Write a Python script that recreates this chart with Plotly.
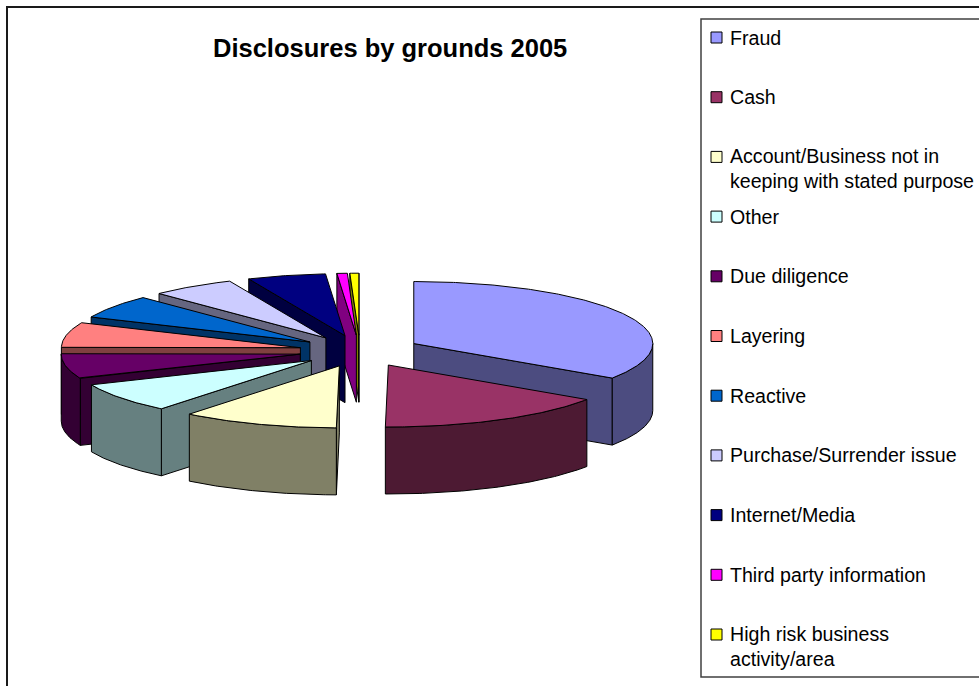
import numpy as np
import plotly.graph_objects as go

# ---- data -------------------------------------------------------------
categories = [
    "Fraud",
    "Cash",
    "Account/Business not in keeping with stated purpose",
    "Other",
    "Due diligence",
    "Layering",
    "Reactive",
    "Purchase/Surrender issue",
    "Internet/Media",
    "Third party information",
    "High risk business activity/area",
]
legend_text = [
    "Fraud",
    "Cash",
    "Account/Business not in<br>keeping with stated purpose",
    "Other",
    "Due diligence",
    "Layering",
    "Reactive",
    "Purchase/Surrender issue",
    "Internet/Media",
    "Third party information",
    "High risk business<br>activity/area",
]
shares = [34.4, 15.8, 10.6, 7.8, 6.5, 6.5, 6.1, 5.7, 5.3, 0.7, 0.6]

face_colors = ["#9999FF", "#993366", "#FFFFCC", "#CCFFFF", "#660066", "#FF8080",
               "#0066CC", "#CCCCFF", "#000080", "#FF00FF", "#FFFF00"]
wall_colors = ["#4C4C80", "#4D1A33", "#808066", "#668080", "#330033", "#804040",
               "#003366", "#666680", "#000040", "#800080", "#808000"]

title_text = "Disclosures by grounds 2005"

# ---- pie geometry (page pixels) ---------------------------------------
CX, CY = 360.0, 351.0      # centre of the top face
RX, RY = 239.0, 62.0       # ellipse radii of the tilted disc
THICK = 67.0               # disc thickness
EXPLODE = 0.255            # radial pull of every slice
FONT = "Liberation Sans, Arial, sans-serif"

vals = np.array(shares, dtype=float)
bounds = np.concatenate([[0.0], np.cumsum(vals)]) / vals.sum() * 360.0


def ring(theta, off, r=1.0):
    t = np.radians(theta)
    return CX + off[0] + r * RX * np.sin(t), CY + off[1] - r * RY * np.cos(t)


slices = []
for i in range(len(vals)):
    a0, a1 = bounds[i], bounds[i + 1]
    am = np.radians((a0 + a1) / 2)
    off = (EXPLODE * RX * np.sin(am), -EXPLODE * RY * np.cos(am))
    ax, ay = CX + off[0], CY + off[1]
    polys = []
    # radial walls that face the viewer
    for a, visible in ((a0, np.sin(np.radians(a0)) < 0),
                       (a1, np.sin(np.radians(a1)) > 0)):
        if visible:
            ox, oy = ring(a, off)
            polys.append(([ax, ox, ox, ax, ax],
                          [ay, oy, oy + THICK, ay + THICK, ay], wall_colors[i]))
    # curved outer wall on the front half
    lo, hi = max(a0, 90.0), min(a1, 270.0)
    if lo < hi:
        th = np.linspace(lo, hi, 90)
        xs, ys = ring(th, off)
        polys.append((np.concatenate([xs, xs[::-1], xs[:1]]),
                      np.concatenate([ys, ys[::-1] + THICK, ys[:1]]), wall_colors[i]))
    # top face
    th = np.linspace(a0, a1, max(int((a1 - a0) * 2), 6))
    xs, ys = ring(th, off)
    polys.append((np.concatenate([[ax], xs, [ax]]),
                  np.concatenate([[ay], ys, [ay]]), face_colors[i]))
    slices.append((-np.cos(am), categories[i], polys))

fig = go.Figure()
# paint from the back of the disc to the front
for _, name, polys in sorted(slices, key=lambda s: s[0]):
    for xs, ys, col in polys:
        fig.add_trace(go.Scatter(
            x=xs, y=ys, mode="lines", fill="toself", fillcolor=col,
            line=dict(color="black", width=1), name=name,
            hoverinfo="skip", showlegend=False))

# ---- frame, legend box and legend entries -----------------------------
shapes = [
    dict(type="rect", xref="x", yref="y", x0=7, y0=7, x1=1000, y1=700,
         line=dict(color="#1a1a1a", width=2), fillcolor="rgba(0,0,0,0)", layer="below"),
    dict(type="rect", xref="x", yref="y", x0=701, y0=19, x1=1000, y1=677,
         line=dict(color="#404040", width=1.5), fillcolor="rgba(0,0,0,0)", layer="below"),
]
annotations = [
    dict(x=390, y=48, xref="x", yref="y", text="<b>" + title_text + "</b>",
         showarrow=False, xanchor="center", yanchor="middle",
         font=dict(family=FONT, size=25.5, color="black")),
]
ROW0, ROWSTEP = 37.5, 59.7
for k, label in enumerate(legend_text):
    yc = ROW0 + k * ROWSTEP
    shapes.append(dict(type="rect", xref="x", yref="y", x0=711, x1=722,
                       y0=yc - 5.5, y1=yc + 5.5, fillcolor=face_colors[k],
                       line=dict(color="black", width=1)))
    n_lines = label.count("<br>") + 1
    annotations.append(dict(
        x=728, y=yc + (n_lines - 1) * 11.8, xref="x", yref="y", text=label,
        showarrow=False, xanchor="left", yanchor="middle", align="left",
        font=dict(family=FONT, size=19.6, color="black")))

fig.update_layout(
    width=979, height=686,
    margin=dict(l=0, r=0, t=0, b=0),
    paper_bgcolor="white", plot_bgcolor="white",
    xaxis=dict(range=[0, 979], visible=False, fixedrange=True),
    yaxis=dict(range=[686, 0], visible=False, fixedrange=True),
    showlegend=False,
    shapes=shapes,
    annotations=annotations,
)

fig.write_html("out.html")
